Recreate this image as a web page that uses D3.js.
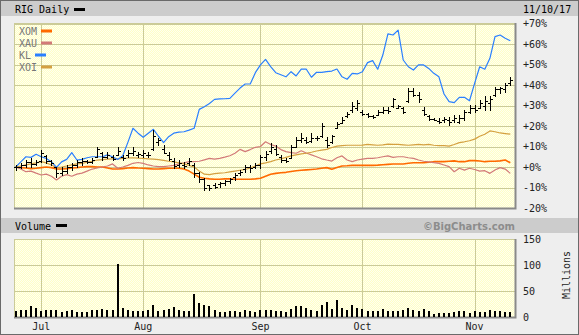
<!DOCTYPE html>
<html><head><meta charset="utf-8">
<script src="https://cdn.jsdelivr.net/npm/d3@7"></script>
<style>body{margin:0;background:#fff}svg{display:block}</style>
</head><body>
<script>
// ---- data (percent change from start) ----
const monthLabels = ["Jul","Aug","Sep","Oct","Nov"];
const monthIdx = [5,25,48,68,90];
const pctTicks = [-20,-10,0,10,20,30,40,50,60,70];
const volTicks = [0,50,100,150];
const rigHigh = [1,1.8,3.4,4.2,3.4,8.3,5.9,3.4,0.2,0.2,1,1.8,3.4,4.2,3.4,4.2,9.9,7.5,7.5,5.9,9.9,6,8.3,9.9,7.5,8.3,7.5,18,14,10.7,7.5,4.2,3.4,2.6,4.2,1.8,-2.2,-5.5,-8.8,-8,-7.2,-6.3,-5.5,-3.1,-1.5,1,1,1.8,5.9,8,11.5,10.7,5.9,4.2,10.7,14.8,16.4,14.8,16.4,15,21.3,14.8,15.6,22.1,24.6,27,31.9,32.7,28,26.2,25.4,27.8,29.5,29.5,33.6,30.3,29.5,38.4,38.4,36.8,29.5,25.4,23.7,23.7,24.6,24.6,25.4,25.4,27.8,30.3,30.3,32.7,34.4,34.4,39.2,39.2,40.9,44.1];
const rigLow = [-1.5,-0.6,0.2,0.2,1,2.6,1.8,1,-4.7,-3.9,-3.1,-1.5,0.2,1,1.8,1.8,5,3.4,4.2,3.4,5.9,3.4,5,5.9,5,5,5,8.3,10.7,6.6,3.4,-0.6,0.2,-0.6,1,-4.7,-7.2,-11.2,-11.2,-10.4,-9.6,-8.8,-8,-6.3,-3.9,-2.2,-2.2,-0.6,-0.6,3.4,6.6,5.9,2.6,2.6,4.2,9.9,12.4,11.5,12.4,13.2,14.8,9.9,11.5,18.8,21.3,24.6,27,27.8,25.4,24.6,23.7,25.4,26.2,26.2,29.5,28.7,26.2,31.9,34.4,31.9,25.4,22.9,22.9,21.3,22.1,20.5,22.1,21.3,22.9,26.2,27,28.7,27.8,27.8,34.4,36,36.8,40.1];
const rigOpen = [0,0,1,2.5,1.5,3,5.5,3,0,-3,-2,0,1,2.5,3,2.5,5,7,5,5,6,5,6,7,6,6,6,9,12,9,6,3,1,1,2,1,-3,-6,-9,-9,-8.5,-8,-7,-5,-3,-1,0,0,1,5,8,9,5,3.5,4.5,10,13,13,12.5,14,15,13,12,19,21.5,25,28,29,27,26,25,25.5,27,28,30,29,29,32,37,35,28,25,23.5,22.5,23,23,23,22,24,27,29,29,30,31,35,38,38,41];
const rigClose = [0,1,2.5,1.5,2.5,7,3,2,-3,-2,0,1,2.5,3,2.5,3.5,9,5,6,4,8,4.5,7,8,6.5,7,6,15,13,7,4,0.5,2,0.5,3,-3,-6,-10,-10,-9.6,-8,-7,-6,-4,-2.5,0,-0.5,1,5,6.5,10,6.5,3.5,3,10,13,14,12,14,14,20,10.5,15,21,23,26,30,31,26,25,24.5,27,28,27.5,33,30,27,37,35,33,26,23.5,23,22,23.5,22,24,24,27,29,28,31,32,33,38,38.5,40,42.5];
const kl = [0,2.5,5,4.7,6.2,5,4.2,2.6,-0.2,2.5,3.7,7,3.4,3.7,4.5,5,5,5,5.9,5,3.7,5.5,12,18.9,16.5,14.5,16.5,18.4,15,11.9,14.8,16.5,17,17.2,18,18.9,28.1,29.4,31,33,33.2,33.3,33.5,36,38.5,40.5,40.5,46,49.8,52.5,49,46,45,44,46.5,44.4,47.7,47.7,43.8,46.2,46.2,46.5,46.8,47.8,44,42.8,45.7,45.4,46.5,50.9,51.9,47.7,54.6,64.9,64.4,66.8,52.2,48.9,47.3,49.8,49.8,48.1,45.7,44,35.6,31.9,31.4,34,34,32.3,40.8,48.9,47.7,53,63.6,64.4,62.8,61.6];
const xom = [0,-0.3,-0.5,-0.8,-0.6,-0.3,0,-0.3,-1,-1,-0.8,-0.5,-0.3,0,0.2,0.2,0,0,-0.5,-1,-1,-0.8,-0.5,-0.3,-0.5,-0.6,-0.8,-1,-1,-0.8,-0.6,-0.6,-0.6,-1,-2,-3.5,-5,-5.5,-5.8,-6,-6,-5.8,-5.8,-6,-6,-6,-6,-5.8,-5.5,-4.5,-3.5,-3.1,-2.8,-2.6,-2.2,-1.8,-1.6,-1.4,-1.2,-1,-0.6,-0.3,-1.1,-0.2,0.5,0.6,0.8,0.8,0.8,0.8,0.8,0.9,1.1,1.3,1.5,1.5,1.5,1.8,2.1,2.1,2.1,2.3,2.6,2.6,2.6,2.8,3,2.6,2.6,3.1,3.1,2.9,2.6,2.8,2.8,3,3.4,2.1];
const xau = [0,-1,-2.3,-2,-3,-3.9,-3.5,-4.5,-6.3,-4.5,-3.7,-4.5,-3.5,-3,-2,-1,-0.5,0,0.5,1.5,-0.6,0,0.8,1.8,2.2,1.8,1,0.5,0.2,0.2,0.5,0.8,1.5,2,2.6,2.6,2.8,3.5,4.2,3.8,4.2,4.8,5.5,6.7,8.6,7.5,8.5,9.6,10,12.3,11,10.2,8.5,7.5,7,6.7,7.9,6.8,5.9,5,4,3.4,2.9,4.5,5.4,3.4,2.6,3.4,3.8,4.2,4.2,4.5,5,5.4,4.7,5,5,4.5,4.2,3.4,2.8,2.5,2.1,1.8,1,0.2,-2.3,-0.6,-1.5,-0.6,-1.2,-2,-1.8,-3.1,-1.5,-0.3,-1,-3.1];
const xoi = [0,0.5,1,1.5,2,2.6,2,1,-0.3,0,0.5,1,1.5,1.8,2.3,2.8,3.4,3.6,3.8,4,4,4.2,4.4,4.5,4.3,4.2,4,3.8,3.6,3.2,2.8,2.5,2,1.5,0.8,0,-2,-3.5,-3.7,-3.2,-3,-2.8,-2.4,-2,-1.6,-1.2,-0.5,0.5,1.5,2,2.6,3.4,4,4.7,5.4,5.9,6.4,6.7,7.2,7.8,8.2,8.6,9.5,10.2,10.4,10.6,10.6,10.6,10.7,11,10.8,10.6,10.8,11.2,11,11,10.8,10.6,10.8,11,10.8,11,10.6,10.4,10.4,10.2,11,11.9,12.3,12.8,13.6,15,16,17.6,17.2,16.6,16.3,16];
const volume = [11,13,13,22,17,11,14,14,14,9,11,14,9,9,9,13,14,16,13,13,101,18,14,11,12,11,13,24,12,14,16,20,13,11,11,45,26,24,22,13,9,9,12,12,10,14,12,10,13,14,14,12,12,9,16,22,22,18,14,12,24,28,16,33,18,14,24,18,16,11,12,12,16,12,12,12,13,17,13,12,15,12,6,8,8,8,10,12,12,8,12,10,10,13,12,12,10,10];
const legendNames = ["XOM","XAU","KL","XOI"];
const legendColors = ["#ff6a00","#d27a78","#2a7fff","#d4a040"];

// ---- drawing ----
const W = 579, H = 335;
const svg = d3.select("body").append("svg").attr("width", W).attr("height", H);
const mono = "'DejaVu Sans Mono', monospace";

const defs = svg.append("defs");
const pat = defs.append("pattern").attr("id","dots").attr("width",2).attr("height",2).attr("patternUnits","userSpaceOnUse");
pat.append("rect").attr("width",2).attr("height",2).attr("fill","#ffffc6");
pat.append("rect").attr("width",1).attr("height",1).attr("fill","#fffff0");
pat.append("rect").attr("x",1).attr("y",1).attr("width",1).attr("height",1).attr("fill","#fffff0");

svg.append("rect").attr("x",0.5).attr("y",0.5).attr("width",W-1).attr("height",H-1)
  .attr("fill","#eeeeee").attr("stroke","#6a6a6a");
svg.append("rect").attr("x",1).attr("y",1).attr("width",W-2).attr("height",15).attr("fill","#cccccc");
svg.append("rect").attr("x",1).attr("y",218).attr("width",W-2).attr("height",15).attr("fill","#cccccc");

const n = kl.length;
const x = d3.scaleLinear().domain([0, n-1]).range([15.7, 510.3]);
const y = d3.scaleLinear().domain([-20, 70]).range([208, 23.5]);
const yv = d3.scaleLinear().domain([0, 150]).range([317, 239]);
const L = 14, R = 515;

function panel(top, bottom, yscale, ticks){
  const g = svg.append("g");
  g.append("rect").attr("x",L).attr("y",top).attr("width",R-L).attr("height",bottom-top).attr("fill","url(#dots)");
  g.selectAll("line.h").data(ticks).join("line")
    .attr("x1",L).attr("x2",R)
    .attr("y1",d=>Math.round(yscale(d))+0.5).attr("y2",d=>Math.round(yscale(d))+0.5)
    .attr("stroke","#cbcb98");
  g.selectAll("line.v").data(monthIdx).join("line")
    .attr("x1",d=>Math.round(x(d))+0.5).attr("x2",d=>Math.round(x(d))+0.5)
    .attr("y1",top).attr("y2",bottom).attr("stroke","#cbcb98");
  g.append("line").attr("x1",L+0.5).attr("x2",L+0.5).attr("y1",top).attr("y2",bottom).attr("stroke","#cbcb98");
  g.append("line").attr("x1",L).attr("x2",R).attr("y1",top+0.5).attr("y2",top+0.5).attr("stroke","#cbcb98");
  g.append("path").attr("d",`M${L},${bottom+0.5}H${R+0.5}V${top}`).attr("fill","none").attr("stroke","#8a8a8a").attr("stroke-width",2);
  return g;
}
panel(23, 208, y, pctTicks);
panel(239, 317, yv, volTicks);

// comparison lines (KL drawn last, on top)
const line = arr => d3.line().x((d,i)=>x(i)).y(d=>y(d))(arr);
const series = [
  {data: xom, color: legendColors[0], w: 1.6},
  {data: xau, color: legendColors[1], w: 1.2},
  {data: xoi, color: legendColors[3], w: 1.2},
  {data: kl,  color: legendColors[2], w: 1.2}
];
series.forEach(s=>{
  svg.append("path").attr("d", line(s.data)).attr("fill","none")
    .attr("stroke", s.color).attr("stroke-width", s.w).attr("stroke-linejoin","round");
});

// RIG OHLC bars
const bars = svg.append("g").attr("stroke","#000").attr("stroke-width",1).attr("fill","none");
d3.range(n).forEach(i=>{
  const cx = Math.round(x(i))+0.5;
  bars.append("line").attr("x1",cx).attr("x2",cx).attr("y1",Math.round(y(rigHigh[i]))).attr("y2",Math.round(y(rigLow[i]))+1);
  const yo = Math.round(y(rigOpen[i]))+0.5, yc = Math.round(y(rigClose[i]))+0.5;
  bars.append("line").attr("x1",cx-2.5).attr("x2",cx).attr("y1",yo).attr("y2",yo);
  bars.append("line").attr("x1",cx).attr("x2",cx+2.5).attr("y1",yc).attr("y2",yc);
});

// volume bars
svg.append("g").selectAll("rect").data(volume).join("rect")
  .attr("x",(d,i)=>Math.round(x(i))-1).attr("width",2)
  .attr("y",d=>Math.round(yv(d))).attr("height",d=>317-Math.round(yv(d)))
  .attr("fill","#000");

// legend in plot
legendNames.forEach((nm,k)=>{
  const yy = 34.5 + k*12;
  svg.append("text").attr("x",19).attr("y",yy).text(nm)
    .attr("font-family",mono).attr("font-size",10).attr("fill","#777");
  const sx = nm.length===2 ? 35 : 41;
  svg.append("rect").attr("x",sx).attr("y",yy-5).attr("width",11).attr("height",3).attr("fill",legendColors[k]);
});

// headers
svg.append("text").attr("x",15).attr("y",13).text("RIG Daily").attr("font-family",mono).attr("font-size",10).attr("fill","#000");
svg.append("rect").attr("x",74).attr("y",8).attr("width",11).attr("height",3).attr("fill","#000");
svg.append("text").attr("x",523).attr("y",13).text("11/10/17").attr("font-family",mono).attr("font-size",10).attr("fill","#000");
svg.append("text").attr("x",15).attr("y",229.5).text("Volume").attr("font-family",mono).attr("font-size",10).attr("fill","#000");
svg.append("rect").attr("x",56).attr("y",224).attr("width",11).attr("height",3).attr("fill","#000");
svg.append("text").attr("x",515).attr("y",229.5).attr("text-anchor","end").text("©BigCharts.com")
  .attr("font-family","'DejaVu Sans', sans-serif").attr("font-weight","bold").attr("font-size",10).attr("fill","#8c8c8c");

// y labels
svg.append("g").selectAll("text").data(pctTicks).join("text")
  .attr("x",523).attr("y",d=>y(d)+3.5)
  .text(d=> (d>=0?"+":"") + d + "%")
  .attr("font-family",mono).attr("font-size",10).attr("fill","#222");
svg.append("g").selectAll("text").data(volTicks).join("text")
  .attr("x",523).attr("y",d=>yv(d)+3.5).text(d=>d)
  .attr("font-family",mono).attr("font-size",10).attr("fill","#222");
svg.append("text").attr("transform","translate(570,275) rotate(-90)").attr("text-anchor","middle")
  .text("Millions").attr("font-family",mono).attr("font-size",10).attr("fill","#222");

// month labels
svg.append("g").selectAll("text").data(monthLabels).join("text")
  .attr("x",(d,i)=>x(monthIdx[i])).attr("y",330).attr("text-anchor","middle").text(d=>d)
  .attr("font-family",mono).attr("font-size",10).attr("fill","#222");
</script>
</body></html>
